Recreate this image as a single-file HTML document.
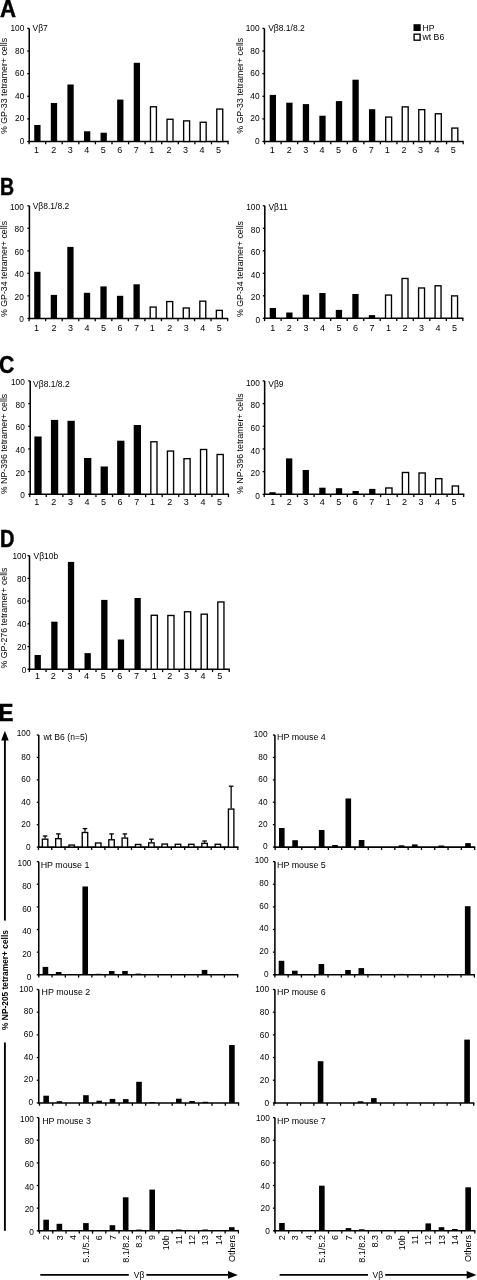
<!DOCTYPE html><html><head><meta charset="utf-8"><style>html,body{margin:0;padding:0;background:#fff}svg{display:block;will-change:transform}text{stroke:none;fill:#000}</style></head><body>
<svg width="477" height="1280" viewBox="0 0 477 1280" font-family="'Liberation Sans', sans-serif" stroke="#000" fill="#000">
<text transform="translate(0.0 16.8) scale(0.965 1)" font-size="23" font-weight="bold" style="stroke:#000;stroke-width:0.45;stroke-linejoin:miter">A</text>
<text transform="translate(0.1 194.7) scale(0.85 1)" font-size="23" font-weight="bold" style="stroke:#000;stroke-width:0.45;stroke-linejoin:miter">B</text>
<text transform="translate(-0.9 372.8) scale(0.925 1)" font-size="23" font-weight="bold" style="stroke:#000;stroke-width:0.45;stroke-linejoin:miter">C</text>
<text transform="translate(0.0 546.7) scale(0.87 1)" font-size="23" font-weight="bold" style="stroke:#000;stroke-width:0.45;stroke-linejoin:miter">D</text>
<text transform="translate(-1.4 720.7) scale(0.975 1)" font-size="23" font-weight="bold" style="stroke:#000;stroke-width:0.45;stroke-linejoin:miter">E</text>
<line x1="29.25" y1="28.4" x2="29.25" y2="142.25" stroke-width="1.55"/>
<line x1="28.5" y1="141.5" x2="228.66" y2="141.5" stroke-width="1.55"/>
<line x1="27.25" y1="141.5" x2="29.25" y2="141.5" stroke-width="1.3"/>
<text x="24.25" y="144.1" font-size="8.3" text-anchor="end">0</text>
<line x1="27.25" y1="118.88" x2="29.25" y2="118.88" stroke-width="1.3"/>
<text x="24.25" y="121.48" font-size="8.3" text-anchor="end">20</text>
<line x1="27.25" y1="96.26" x2="29.25" y2="96.26" stroke-width="1.3"/>
<text x="24.25" y="98.86" font-size="8.3" text-anchor="end">40</text>
<line x1="27.25" y1="73.64" x2="29.25" y2="73.64" stroke-width="1.3"/>
<text x="24.25" y="76.24" font-size="8.3" text-anchor="end">60</text>
<line x1="27.25" y1="51.02" x2="29.25" y2="51.02" stroke-width="1.3"/>
<text x="24.25" y="53.62" font-size="8.3" text-anchor="end">80</text>
<line x1="27.25" y1="28.4" x2="29.25" y2="28.4" stroke-width="1.3"/>
<text x="24.25" y="31" font-size="8.3" text-anchor="end">100</text>
<line x1="29.1" y1="141.5" x2="29.1" y2="144.3" stroke-width="1.3"/>
<line x1="45.68" y1="141.5" x2="45.68" y2="144.3" stroke-width="1.3"/>
<line x1="62.26" y1="141.5" x2="62.26" y2="144.3" stroke-width="1.3"/>
<line x1="78.84" y1="141.5" x2="78.84" y2="144.3" stroke-width="1.3"/>
<line x1="95.42" y1="141.5" x2="95.42" y2="144.3" stroke-width="1.3"/>
<line x1="112" y1="141.5" x2="112" y2="144.3" stroke-width="1.3"/>
<line x1="128.58" y1="141.5" x2="128.58" y2="144.3" stroke-width="1.3"/>
<line x1="145.16" y1="141.5" x2="145.16" y2="144.3" stroke-width="1.3"/>
<line x1="161.74" y1="141.5" x2="161.74" y2="144.3" stroke-width="1.3"/>
<line x1="178.32" y1="141.5" x2="178.32" y2="144.3" stroke-width="1.3"/>
<line x1="194.9" y1="141.5" x2="194.9" y2="144.3" stroke-width="1.3"/>
<line x1="211.48" y1="141.5" x2="211.48" y2="144.3" stroke-width="1.3"/>
<line x1="228.06" y1="141.5" x2="228.06" y2="144.3" stroke-width="1.3"/>
<rect x="34.24" y="125" width="6.3" height="16.5" fill="#000" stroke="none"/>
<rect x="50.82" y="103" width="6.3" height="38.5" fill="#000" stroke="none"/>
<rect x="67.4" y="84.5" width="6.3" height="57" fill="#000" stroke="none"/>
<rect x="83.98" y="131.3" width="6.3" height="10.2" fill="#000" stroke="none"/>
<rect x="100.56" y="132.7" width="6.3" height="8.8" fill="#000" stroke="none"/>
<rect x="117.14" y="99.6" width="6.3" height="41.9" fill="#000" stroke="none"/>
<rect x="133.72" y="62.8" width="6.3" height="78.7" fill="#000" stroke="none"/>
<rect x="150.47" y="106.77" width="5.95" height="34.73" fill="#fff" stroke="#000" stroke-width="1.35"/>
<rect x="167.05" y="119.27" width="5.95" height="22.23" fill="#fff" stroke="#000" stroke-width="1.35"/>
<rect x="183.63" y="120.88" width="5.95" height="20.62" fill="#fff" stroke="#000" stroke-width="1.35"/>
<rect x="200.21" y="122.27" width="5.95" height="19.23" fill="#fff" stroke="#000" stroke-width="1.35"/>
<rect x="216.79" y="109.08" width="5.95" height="32.42" fill="#fff" stroke="#000" stroke-width="1.35"/>
<text x="36.49" y="152.9" font-size="9" text-anchor="middle">1</text>
<text x="53.85" y="152.9" font-size="9" text-anchor="middle">2</text>
<text x="70.31" y="152.9" font-size="9" text-anchor="middle">3</text>
<text x="86.77" y="152.9" font-size="9" text-anchor="middle">4</text>
<text x="103.23" y="152.9" font-size="9" text-anchor="middle">5</text>
<text x="119.69" y="152.9" font-size="9" text-anchor="middle">6</text>
<text x="136.15" y="152.9" font-size="9" text-anchor="middle">7</text>
<text x="151.71" y="152.9" font-size="9" text-anchor="middle">1</text>
<text x="169.07" y="152.9" font-size="9" text-anchor="middle">2</text>
<text x="185.53" y="152.9" font-size="9" text-anchor="middle">3</text>
<text x="201.99" y="152.9" font-size="9" text-anchor="middle">4</text>
<text x="218.45" y="152.9" font-size="9" text-anchor="middle">5</text>
<text x="32.55" y="30.8" font-size="8.5">Vβ7</text>
<text x="6.5" y="86" font-size="8.8" text-anchor="middle" transform="rotate(-90 6.5 86)">% GP-33 tetramer+ cells</text>
<line x1="264.4" y1="28.4" x2="264.4" y2="142.25" stroke-width="1.55"/>
<line x1="263.65" y1="141.5" x2="463.72" y2="141.5" stroke-width="1.55"/>
<line x1="262.4" y1="141.5" x2="264.4" y2="141.5" stroke-width="1.3"/>
<text x="259.55" y="144.1" font-size="8.3" text-anchor="end">0</text>
<line x1="262.4" y1="118.88" x2="264.4" y2="118.88" stroke-width="1.3"/>
<text x="259.55" y="121.48" font-size="8.3" text-anchor="end">20</text>
<line x1="262.4" y1="96.26" x2="264.4" y2="96.26" stroke-width="1.3"/>
<text x="259.55" y="98.86" font-size="8.3" text-anchor="end">40</text>
<line x1="262.4" y1="73.64" x2="264.4" y2="73.64" stroke-width="1.3"/>
<text x="259.55" y="76.24" font-size="8.3" text-anchor="end">60</text>
<line x1="262.4" y1="51.02" x2="264.4" y2="51.02" stroke-width="1.3"/>
<text x="259.55" y="53.62" font-size="8.3" text-anchor="end">80</text>
<line x1="262.4" y1="28.4" x2="264.4" y2="28.4" stroke-width="1.3"/>
<text x="259.55" y="31" font-size="8.3" text-anchor="end">100</text>
<line x1="264.58" y1="141.5" x2="264.58" y2="144.3" stroke-width="1.3"/>
<line x1="281.12" y1="141.5" x2="281.12" y2="144.3" stroke-width="1.3"/>
<line x1="297.67" y1="141.5" x2="297.67" y2="144.3" stroke-width="1.3"/>
<line x1="314.21" y1="141.5" x2="314.21" y2="144.3" stroke-width="1.3"/>
<line x1="330.76" y1="141.5" x2="330.76" y2="144.3" stroke-width="1.3"/>
<line x1="347.31" y1="141.5" x2="347.31" y2="144.3" stroke-width="1.3"/>
<line x1="363.85" y1="141.5" x2="363.85" y2="144.3" stroke-width="1.3"/>
<line x1="380.39" y1="141.5" x2="380.39" y2="144.3" stroke-width="1.3"/>
<line x1="396.94" y1="141.5" x2="396.94" y2="144.3" stroke-width="1.3"/>
<line x1="413.49" y1="141.5" x2="413.49" y2="144.3" stroke-width="1.3"/>
<line x1="430.03" y1="141.5" x2="430.03" y2="144.3" stroke-width="1.3"/>
<line x1="446.57" y1="141.5" x2="446.57" y2="144.3" stroke-width="1.3"/>
<line x1="463.12" y1="141.5" x2="463.12" y2="144.3" stroke-width="1.3"/>
<rect x="269.7" y="94.9" width="6.3" height="46.6" fill="#000" stroke="none"/>
<rect x="286.25" y="102.7" width="6.3" height="38.8" fill="#000" stroke="none"/>
<rect x="302.79" y="104.1" width="6.3" height="37.4" fill="#000" stroke="none"/>
<rect x="319.34" y="115.7" width="6.3" height="25.8" fill="#000" stroke="none"/>
<rect x="335.88" y="101.1" width="6.3" height="40.4" fill="#000" stroke="none"/>
<rect x="352.43" y="79.7" width="6.3" height="61.8" fill="#000" stroke="none"/>
<rect x="368.97" y="109.2" width="6.3" height="32.3" fill="#000" stroke="none"/>
<rect x="385.69" y="117.08" width="5.95" height="24.42" fill="#fff" stroke="#000" stroke-width="1.35"/>
<rect x="402.24" y="106.88" width="5.95" height="34.62" fill="#fff" stroke="#000" stroke-width="1.35"/>
<rect x="418.78" y="109.67" width="5.95" height="31.82" fill="#fff" stroke="#000" stroke-width="1.35"/>
<rect x="435.33" y="113.77" width="5.95" height="27.73" fill="#fff" stroke="#000" stroke-width="1.35"/>
<rect x="451.87" y="128.08" width="5.95" height="13.42" fill="#fff" stroke="#000" stroke-width="1.35"/>
<text x="272.35" y="152.9" font-size="9" text-anchor="middle">1</text>
<text x="289.26" y="152.9" font-size="9" text-anchor="middle">2</text>
<text x="305.66" y="152.9" font-size="9" text-anchor="middle">3</text>
<text x="322.07" y="152.9" font-size="9" text-anchor="middle">4</text>
<text x="338.47" y="152.9" font-size="9" text-anchor="middle">5</text>
<text x="354.88" y="152.9" font-size="9" text-anchor="middle">6</text>
<text x="371.28" y="152.9" font-size="9" text-anchor="middle">7</text>
<text x="387.19" y="152.9" font-size="9" text-anchor="middle">1</text>
<text x="404.09" y="152.9" font-size="9" text-anchor="middle">2</text>
<text x="420.5" y="152.9" font-size="9" text-anchor="middle">3</text>
<text x="436.9" y="152.9" font-size="9" text-anchor="middle">4</text>
<text x="453.31" y="152.9" font-size="9" text-anchor="middle">5</text>
<text x="268.2" y="30.7" font-size="8.5">Vβ8.1/8.2</text>
<text x="242.8" y="85.8" font-size="8.8" text-anchor="middle" transform="rotate(-90 242.8 85.8)">% GP-33 tetramer+ cells</text>
<rect x="413.5" y="24.2" width="7.2" height="6.8" fill="#000" stroke="none"/>
<rect x="414.1" y="34.2" width="6" height="6" fill="#fff" stroke="#000" stroke-width="1.35"/>
<text x="422.5" y="30.6" font-size="8.7">HP</text>
<text x="422.5" y="40.3" font-size="8.7">wt B6</text>
<line x1="29.4" y1="205.8" x2="29.4" y2="319.15" stroke-width="1.55"/>
<line x1="28.65" y1="318.4" x2="228.22" y2="318.4" stroke-width="1.55"/>
<line x1="27.4" y1="318.4" x2="29.4" y2="318.4" stroke-width="1.3"/>
<text x="23.75" y="322.4" font-size="8.3" text-anchor="end">0</text>
<line x1="27.4" y1="295.88" x2="29.4" y2="295.88" stroke-width="1.3"/>
<text x="23.75" y="299.88" font-size="8.3" text-anchor="end">20</text>
<line x1="27.4" y1="273.36" x2="29.4" y2="273.36" stroke-width="1.3"/>
<text x="23.75" y="277.36" font-size="8.3" text-anchor="end">40</text>
<line x1="27.4" y1="250.84" x2="29.4" y2="250.84" stroke-width="1.3"/>
<text x="23.75" y="254.84" font-size="8.3" text-anchor="end">60</text>
<line x1="27.4" y1="228.32" x2="29.4" y2="228.32" stroke-width="1.3"/>
<text x="23.75" y="232.32" font-size="8.3" text-anchor="end">80</text>
<line x1="27.4" y1="205.8" x2="29.4" y2="205.8" stroke-width="1.3"/>
<text x="23.75" y="209.8" font-size="8.3" text-anchor="end">100</text>
<line x1="29.08" y1="318.4" x2="29.08" y2="321.2" stroke-width="1.3"/>
<line x1="45.62" y1="318.4" x2="45.62" y2="321.2" stroke-width="1.3"/>
<line x1="62.17" y1="318.4" x2="62.17" y2="321.2" stroke-width="1.3"/>
<line x1="78.72" y1="318.4" x2="78.72" y2="321.2" stroke-width="1.3"/>
<line x1="95.26" y1="318.4" x2="95.26" y2="321.2" stroke-width="1.3"/>
<line x1="111.81" y1="318.4" x2="111.81" y2="321.2" stroke-width="1.3"/>
<line x1="128.35" y1="318.4" x2="128.35" y2="321.2" stroke-width="1.3"/>
<line x1="144.9" y1="318.4" x2="144.9" y2="321.2" stroke-width="1.3"/>
<line x1="161.44" y1="318.4" x2="161.44" y2="321.2" stroke-width="1.3"/>
<line x1="177.99" y1="318.4" x2="177.99" y2="321.2" stroke-width="1.3"/>
<line x1="194.53" y1="318.4" x2="194.53" y2="321.2" stroke-width="1.3"/>
<line x1="211.07" y1="318.4" x2="211.07" y2="321.2" stroke-width="1.3"/>
<line x1="227.62" y1="318.4" x2="227.62" y2="321.2" stroke-width="1.3"/>
<rect x="34.2" y="271.8" width="6.3" height="46.6" fill="#000" stroke="none"/>
<rect x="50.75" y="294.9" width="6.3" height="23.5" fill="#000" stroke="none"/>
<rect x="67.29" y="246.9" width="6.3" height="71.5" fill="#000" stroke="none"/>
<rect x="83.84" y="292.8" width="6.3" height="25.6" fill="#000" stroke="none"/>
<rect x="100.38" y="286.4" width="6.3" height="32" fill="#000" stroke="none"/>
<rect x="116.93" y="295.8" width="6.3" height="22.6" fill="#000" stroke="none"/>
<rect x="133.47" y="284.3" width="6.3" height="34.1" fill="#000" stroke="none"/>
<rect x="150.19" y="307.07" width="5.95" height="11.32" fill="#fff" stroke="#000" stroke-width="1.35"/>
<rect x="166.74" y="301.57" width="5.95" height="16.82" fill="#fff" stroke="#000" stroke-width="1.35"/>
<rect x="183.28" y="307.98" width="5.95" height="10.42" fill="#fff" stroke="#000" stroke-width="1.35"/>
<rect x="199.83" y="301.18" width="5.95" height="17.22" fill="#fff" stroke="#000" stroke-width="1.35"/>
<rect x="216.37" y="310.38" width="5.95" height="8.02" fill="#fff" stroke="#000" stroke-width="1.35"/>
<text x="36.55" y="330.8" font-size="9" text-anchor="middle">1</text>
<text x="53.9" y="330.8" font-size="9" text-anchor="middle">2</text>
<text x="70.44" y="330.8" font-size="9" text-anchor="middle">3</text>
<text x="86.99" y="330.8" font-size="9" text-anchor="middle">4</text>
<text x="103.53" y="330.8" font-size="9" text-anchor="middle">5</text>
<text x="120.08" y="330.8" font-size="9" text-anchor="middle">6</text>
<text x="136.62" y="330.8" font-size="9" text-anchor="middle">7</text>
<text x="152.37" y="330.8" font-size="9" text-anchor="middle">1</text>
<text x="169.71" y="330.8" font-size="9" text-anchor="middle">2</text>
<text x="186.26" y="330.8" font-size="9" text-anchor="middle">3</text>
<text x="202.8" y="330.8" font-size="9" text-anchor="middle">4</text>
<text x="219.35" y="330.8" font-size="9" text-anchor="middle">5</text>
<text x="32.7" y="209.3" font-size="8.5">Vβ8.1/8.2</text>
<text x="6.5" y="269" font-size="8.8" text-anchor="middle" transform="rotate(-90 6.5 269)">% GP-34 tetramer+ cells</text>
<line x1="264.8" y1="205.8" x2="264.8" y2="319.05" stroke-width="1.55"/>
<line x1="264.05" y1="318.3" x2="463.44" y2="318.3" stroke-width="1.55"/>
<line x1="262.8" y1="318.3" x2="264.8" y2="318.3" stroke-width="1.3"/>
<text x="260" y="322.9" font-size="8.3" text-anchor="end">0</text>
<line x1="262.8" y1="295.8" x2="264.8" y2="295.8" stroke-width="1.3"/>
<text x="260" y="300.4" font-size="8.3" text-anchor="end">20</text>
<line x1="262.8" y1="273.3" x2="264.8" y2="273.3" stroke-width="1.3"/>
<text x="260" y="277.9" font-size="8.3" text-anchor="end">40</text>
<line x1="262.8" y1="250.8" x2="264.8" y2="250.8" stroke-width="1.3"/>
<text x="260" y="255.4" font-size="8.3" text-anchor="end">60</text>
<line x1="262.8" y1="228.3" x2="264.8" y2="228.3" stroke-width="1.3"/>
<text x="260" y="232.9" font-size="8.3" text-anchor="end">80</text>
<line x1="262.8" y1="205.8" x2="264.8" y2="205.8" stroke-width="1.3"/>
<text x="260" y="210.4" font-size="8.3" text-anchor="end">100</text>
<line x1="264.6" y1="318.3" x2="264.6" y2="321.1" stroke-width="1.3"/>
<line x1="281.12" y1="318.3" x2="281.12" y2="321.1" stroke-width="1.3"/>
<line x1="297.64" y1="318.3" x2="297.64" y2="321.1" stroke-width="1.3"/>
<line x1="314.16" y1="318.3" x2="314.16" y2="321.1" stroke-width="1.3"/>
<line x1="330.68" y1="318.3" x2="330.68" y2="321.1" stroke-width="1.3"/>
<line x1="347.2" y1="318.3" x2="347.2" y2="321.1" stroke-width="1.3"/>
<line x1="363.72" y1="318.3" x2="363.72" y2="321.1" stroke-width="1.3"/>
<line x1="380.24" y1="318.3" x2="380.24" y2="321.1" stroke-width="1.3"/>
<line x1="396.76" y1="318.3" x2="396.76" y2="321.1" stroke-width="1.3"/>
<line x1="413.28" y1="318.3" x2="413.28" y2="321.1" stroke-width="1.3"/>
<line x1="429.8" y1="318.3" x2="429.8" y2="321.1" stroke-width="1.3"/>
<line x1="446.32" y1="318.3" x2="446.32" y2="321.1" stroke-width="1.3"/>
<line x1="462.84" y1="318.3" x2="462.84" y2="321.1" stroke-width="1.3"/>
<rect x="269.71" y="308" width="6.3" height="10.3" fill="#000" stroke="none"/>
<rect x="286.23" y="312.5" width="6.3" height="5.8" fill="#000" stroke="none"/>
<rect x="302.75" y="294.7" width="6.3" height="23.6" fill="#000" stroke="none"/>
<rect x="319.27" y="293" width="6.3" height="25.3" fill="#000" stroke="none"/>
<rect x="335.79" y="309.9" width="6.3" height="8.4" fill="#000" stroke="none"/>
<rect x="352.31" y="294" width="6.3" height="24.3" fill="#000" stroke="none"/>
<rect x="368.83" y="315.1" width="6.3" height="3.2" fill="#000" stroke="none"/>
<rect x="385.53" y="295.07" width="5.95" height="23.23" fill="#fff" stroke="#000" stroke-width="1.35"/>
<rect x="402.05" y="278.48" width="5.95" height="39.83" fill="#fff" stroke="#000" stroke-width="1.35"/>
<rect x="418.57" y="287.98" width="5.95" height="30.32" fill="#fff" stroke="#000" stroke-width="1.35"/>
<rect x="435.09" y="285.78" width="5.95" height="32.52" fill="#fff" stroke="#000" stroke-width="1.35"/>
<rect x="451.61" y="295.88" width="5.95" height="22.43" fill="#fff" stroke="#000" stroke-width="1.35"/>
<text x="272.86" y="330.7" font-size="9" text-anchor="middle">1</text>
<text x="289.38" y="330.7" font-size="9" text-anchor="middle">2</text>
<text x="305.9" y="330.7" font-size="9" text-anchor="middle">3</text>
<text x="322.42" y="330.7" font-size="9" text-anchor="middle">4</text>
<text x="338.94" y="330.7" font-size="9" text-anchor="middle">5</text>
<text x="355.46" y="330.7" font-size="9" text-anchor="middle">6</text>
<text x="371.98" y="330.7" font-size="9" text-anchor="middle">7</text>
<text x="388.5" y="330.7" font-size="9" text-anchor="middle">1</text>
<text x="405.02" y="330.7" font-size="9" text-anchor="middle">2</text>
<text x="421.54" y="330.7" font-size="9" text-anchor="middle">3</text>
<text x="438.06" y="330.7" font-size="9" text-anchor="middle">4</text>
<text x="454.58" y="330.7" font-size="9" text-anchor="middle">5</text>
<text x="268.4" y="209.9" font-size="8.5">Vβ11</text>
<text x="242.7" y="269" font-size="8.8" text-anchor="middle" transform="rotate(-90 242.7 269)">% GP-34 tetramer+ cells</text>
<line x1="30.2" y1="380.9" x2="30.2" y2="495.05" stroke-width="1.55"/>
<line x1="29.45" y1="494.3" x2="229.04" y2="494.3" stroke-width="1.55"/>
<line x1="28.2" y1="494.3" x2="30.2" y2="494.3" stroke-width="1.3"/>
<text x="24.75" y="498.3" font-size="8.3" text-anchor="end">0</text>
<line x1="28.2" y1="471.62" x2="30.2" y2="471.62" stroke-width="1.3"/>
<text x="24.75" y="475.62" font-size="8.3" text-anchor="end">20</text>
<line x1="28.2" y1="448.94" x2="30.2" y2="448.94" stroke-width="1.3"/>
<text x="24.75" y="452.94" font-size="8.3" text-anchor="end">40</text>
<line x1="28.2" y1="426.26" x2="30.2" y2="426.26" stroke-width="1.3"/>
<text x="24.75" y="430.26" font-size="8.3" text-anchor="end">60</text>
<line x1="28.2" y1="403.58" x2="30.2" y2="403.58" stroke-width="1.3"/>
<text x="24.75" y="407.58" font-size="8.3" text-anchor="end">80</text>
<line x1="28.2" y1="380.9" x2="30.2" y2="380.9" stroke-width="1.3"/>
<text x="24.75" y="384.9" font-size="8.3" text-anchor="end">100</text>
<line x1="29.72" y1="494.3" x2="29.72" y2="497.1" stroke-width="1.3"/>
<line x1="46.28" y1="494.3" x2="46.28" y2="497.1" stroke-width="1.3"/>
<line x1="62.84" y1="494.3" x2="62.84" y2="497.1" stroke-width="1.3"/>
<line x1="79.4" y1="494.3" x2="79.4" y2="497.1" stroke-width="1.3"/>
<line x1="95.96" y1="494.3" x2="95.96" y2="497.1" stroke-width="1.3"/>
<line x1="112.52" y1="494.3" x2="112.52" y2="497.1" stroke-width="1.3"/>
<line x1="129.08" y1="494.3" x2="129.08" y2="497.1" stroke-width="1.3"/>
<line x1="145.64" y1="494.3" x2="145.64" y2="497.1" stroke-width="1.3"/>
<line x1="162.2" y1="494.3" x2="162.2" y2="497.1" stroke-width="1.3"/>
<line x1="178.76" y1="494.3" x2="178.76" y2="497.1" stroke-width="1.3"/>
<line x1="195.32" y1="494.3" x2="195.32" y2="497.1" stroke-width="1.3"/>
<line x1="211.88" y1="494.3" x2="211.88" y2="497.1" stroke-width="1.3"/>
<line x1="228.44" y1="494.3" x2="228.44" y2="497.1" stroke-width="1.3"/>
<rect x="34.35" y="436.5" width="7.3" height="57.8" fill="#000" stroke="none"/>
<rect x="50.91" y="419.9" width="7.3" height="74.4" fill="#000" stroke="none"/>
<rect x="67.47" y="420.8" width="7.3" height="73.5" fill="#000" stroke="none"/>
<rect x="84.03" y="458" width="7.3" height="36.3" fill="#000" stroke="none"/>
<rect x="100.59" y="466.5" width="7.3" height="27.8" fill="#000" stroke="none"/>
<rect x="117.15" y="440.7" width="7.3" height="53.6" fill="#000" stroke="none"/>
<rect x="133.71" y="425" width="7.3" height="69.3" fill="#000" stroke="none"/>
<rect x="150.84" y="441.78" width="6.15" height="52.52" fill="#fff" stroke="#000" stroke-width="1.35"/>
<rect x="167.41" y="451.07" width="6.15" height="43.23" fill="#fff" stroke="#000" stroke-width="1.35"/>
<rect x="183.97" y="458.68" width="6.15" height="35.63" fill="#fff" stroke="#000" stroke-width="1.35"/>
<rect x="200.53" y="449.48" width="6.15" height="44.83" fill="#fff" stroke="#000" stroke-width="1.35"/>
<rect x="217.09" y="454.48" width="6.15" height="39.83" fill="#fff" stroke="#000" stroke-width="1.35"/>
<text x="36.7" y="504.9" font-size="9" text-anchor="middle">1</text>
<text x="53.86" y="504.9" font-size="9" text-anchor="middle">2</text>
<text x="70.42" y="504.9" font-size="9" text-anchor="middle">3</text>
<text x="86.98" y="504.9" font-size="9" text-anchor="middle">4</text>
<text x="103.54" y="504.9" font-size="9" text-anchor="middle">5</text>
<text x="120.1" y="504.9" font-size="9" text-anchor="middle">6</text>
<text x="136.66" y="504.9" font-size="9" text-anchor="middle">7</text>
<text x="152.62" y="504.9" font-size="9" text-anchor="middle">1</text>
<text x="169.78" y="504.9" font-size="9" text-anchor="middle">2</text>
<text x="186.34" y="504.9" font-size="9" text-anchor="middle">3</text>
<text x="202.9" y="504.9" font-size="9" text-anchor="middle">4</text>
<text x="219.46" y="504.9" font-size="9" text-anchor="middle">5</text>
<text x="33.1" y="386.9" font-size="8.5">Vβ8.1/8.2</text>
<text x="6.5" y="444" font-size="8.8" text-anchor="middle" transform="rotate(-90 6.5 444)">% NP-396 tetramer+ cells</text>
<line x1="264.65" y1="380.9" x2="264.65" y2="495.05" stroke-width="1.55"/>
<line x1="263.9" y1="494.3" x2="464.28" y2="494.3" stroke-width="1.55"/>
<line x1="262.65" y1="494.3" x2="264.65" y2="494.3" stroke-width="1.3"/>
<text x="259.85" y="498.9" font-size="8.3" text-anchor="end">0</text>
<line x1="262.65" y1="471.62" x2="264.65" y2="471.62" stroke-width="1.3"/>
<text x="259.85" y="476.22" font-size="8.3" text-anchor="end">20</text>
<line x1="262.65" y1="448.94" x2="264.65" y2="448.94" stroke-width="1.3"/>
<text x="259.85" y="453.54" font-size="8.3" text-anchor="end">40</text>
<line x1="262.65" y1="426.26" x2="264.65" y2="426.26" stroke-width="1.3"/>
<text x="259.85" y="430.86" font-size="8.3" text-anchor="end">60</text>
<line x1="262.65" y1="403.58" x2="264.65" y2="403.58" stroke-width="1.3"/>
<text x="259.85" y="408.18" font-size="8.3" text-anchor="end">80</text>
<line x1="262.65" y1="380.9" x2="264.65" y2="380.9" stroke-width="1.3"/>
<text x="259.85" y="385.5" font-size="8.3" text-anchor="end">100</text>
<line x1="264.24" y1="494.3" x2="264.24" y2="497.1" stroke-width="1.3"/>
<line x1="280.86" y1="494.3" x2="280.86" y2="497.1" stroke-width="1.3"/>
<line x1="297.48" y1="494.3" x2="297.48" y2="497.1" stroke-width="1.3"/>
<line x1="314.1" y1="494.3" x2="314.1" y2="497.1" stroke-width="1.3"/>
<line x1="330.72" y1="494.3" x2="330.72" y2="497.1" stroke-width="1.3"/>
<line x1="347.34" y1="494.3" x2="347.34" y2="497.1" stroke-width="1.3"/>
<line x1="363.96" y1="494.3" x2="363.96" y2="497.1" stroke-width="1.3"/>
<line x1="380.58" y1="494.3" x2="380.58" y2="497.1" stroke-width="1.3"/>
<line x1="397.2" y1="494.3" x2="397.2" y2="497.1" stroke-width="1.3"/>
<line x1="413.82" y1="494.3" x2="413.82" y2="497.1" stroke-width="1.3"/>
<line x1="430.44" y1="494.3" x2="430.44" y2="497.1" stroke-width="1.3"/>
<line x1="447.06" y1="494.3" x2="447.06" y2="497.1" stroke-width="1.3"/>
<line x1="463.68" y1="494.3" x2="463.68" y2="497.1" stroke-width="1.3"/>
<rect x="269.4" y="492.2" width="6.3" height="2.1" fill="#000" stroke="none"/>
<rect x="286.02" y="458.4" width="6.3" height="35.9" fill="#000" stroke="none"/>
<rect x="302.64" y="470" width="6.3" height="24.3" fill="#000" stroke="none"/>
<rect x="319.26" y="487.7" width="6.3" height="6.6" fill="#000" stroke="none"/>
<rect x="335.88" y="488.2" width="6.3" height="6.1" fill="#000" stroke="none"/>
<rect x="352.5" y="491" width="6.3" height="3.3" fill="#000" stroke="none"/>
<rect x="369.12" y="488.9" width="6.3" height="5.4" fill="#000" stroke="none"/>
<rect x="385.76" y="487.98" width="6.25" height="6.33" fill="#fff" stroke="#000" stroke-width="1.35"/>
<rect x="402.38" y="472.48" width="6.25" height="21.82" fill="#fff" stroke="#000" stroke-width="1.35"/>
<rect x="419" y="472.98" width="6.25" height="21.32" fill="#fff" stroke="#000" stroke-width="1.35"/>
<rect x="435.62" y="478.68" width="6.25" height="15.63" fill="#fff" stroke="#000" stroke-width="1.35"/>
<rect x="452.25" y="485.98" width="6.25" height="8.32" fill="#fff" stroke="#000" stroke-width="1.35"/>
<text x="272.85" y="504.9" font-size="9" text-anchor="middle">1</text>
<text x="289.32" y="504.9" font-size="9" text-anchor="middle">2</text>
<text x="305.79" y="504.9" font-size="9" text-anchor="middle">3</text>
<text x="322.26" y="504.9" font-size="9" text-anchor="middle">4</text>
<text x="338.73" y="504.9" font-size="9" text-anchor="middle">5</text>
<text x="355.2" y="504.9" font-size="9" text-anchor="middle">6</text>
<text x="371.67" y="504.9" font-size="9" text-anchor="middle">7</text>
<text x="388.14" y="504.9" font-size="9" text-anchor="middle">1</text>
<text x="404.61" y="504.9" font-size="9" text-anchor="middle">2</text>
<text x="421.08" y="504.9" font-size="9" text-anchor="middle">3</text>
<text x="437.55" y="504.9" font-size="9" text-anchor="middle">4</text>
<text x="454.02" y="504.9" font-size="9" text-anchor="middle">5</text>
<text x="268.25" y="386.8" font-size="8.5">Vβ9</text>
<text x="242.9" y="443.7" font-size="8.8" text-anchor="middle" transform="rotate(-90 242.9 443.7)">% NP-396 tetramer+ cells</text>
<line x1="29.5" y1="555.6" x2="29.5" y2="670.05" stroke-width="1.55"/>
<line x1="28.75" y1="669.3" x2="229.8" y2="669.3" stroke-width="1.55"/>
<line x1="27.5" y1="669.3" x2="29.5" y2="669.3" stroke-width="1.3"/>
<text x="26.25" y="672.6" font-size="8.3" text-anchor="end">0</text>
<line x1="27.5" y1="646.56" x2="29.5" y2="646.56" stroke-width="1.3"/>
<text x="26.25" y="649.86" font-size="8.3" text-anchor="end">20</text>
<line x1="27.5" y1="623.82" x2="29.5" y2="623.82" stroke-width="1.3"/>
<text x="26.25" y="627.12" font-size="8.3" text-anchor="end">40</text>
<line x1="27.5" y1="601.08" x2="29.5" y2="601.08" stroke-width="1.3"/>
<text x="26.25" y="604.38" font-size="8.3" text-anchor="end">60</text>
<line x1="27.5" y1="578.34" x2="29.5" y2="578.34" stroke-width="1.3"/>
<text x="26.25" y="581.64" font-size="8.3" text-anchor="end">80</text>
<line x1="27.5" y1="555.6" x2="29.5" y2="555.6" stroke-width="1.3"/>
<text x="26.25" y="558.9" font-size="8.3" text-anchor="end">100</text>
<line x1="29.4" y1="669.3" x2="29.4" y2="672.1" stroke-width="1.3"/>
<line x1="46.05" y1="669.3" x2="46.05" y2="672.1" stroke-width="1.3"/>
<line x1="62.7" y1="669.3" x2="62.7" y2="672.1" stroke-width="1.3"/>
<line x1="79.35" y1="669.3" x2="79.35" y2="672.1" stroke-width="1.3"/>
<line x1="96" y1="669.3" x2="96" y2="672.1" stroke-width="1.3"/>
<line x1="112.65" y1="669.3" x2="112.65" y2="672.1" stroke-width="1.3"/>
<line x1="129.3" y1="669.3" x2="129.3" y2="672.1" stroke-width="1.3"/>
<line x1="145.95" y1="669.3" x2="145.95" y2="672.1" stroke-width="1.3"/>
<line x1="162.6" y1="669.3" x2="162.6" y2="672.1" stroke-width="1.3"/>
<line x1="179.25" y1="669.3" x2="179.25" y2="672.1" stroke-width="1.3"/>
<line x1="195.9" y1="669.3" x2="195.9" y2="672.1" stroke-width="1.3"/>
<line x1="212.55" y1="669.3" x2="212.55" y2="672.1" stroke-width="1.3"/>
<line x1="229.2" y1="669.3" x2="229.2" y2="672.1" stroke-width="1.3"/>
<rect x="34.57" y="655" width="6.3" height="14.3" fill="#000" stroke="none"/>
<rect x="51.23" y="621.7" width="6.3" height="47.6" fill="#000" stroke="none"/>
<rect x="67.88" y="561.9" width="6.3" height="107.4" fill="#000" stroke="none"/>
<rect x="84.52" y="653.1" width="6.3" height="16.2" fill="#000" stroke="none"/>
<rect x="101.17" y="599.9" width="6.3" height="69.4" fill="#000" stroke="none"/>
<rect x="117.82" y="639.5" width="6.3" height="29.8" fill="#000" stroke="none"/>
<rect x="134.47" y="598" width="6.3" height="71.3" fill="#000" stroke="none"/>
<rect x="151.2" y="615.27" width="6.15" height="54.02" fill="#fff" stroke="#000" stroke-width="1.35"/>
<rect x="167.85" y="615.47" width="6.15" height="53.83" fill="#fff" stroke="#000" stroke-width="1.35"/>
<rect x="184.5" y="611.77" width="6.15" height="57.52" fill="#fff" stroke="#000" stroke-width="1.35"/>
<rect x="201.15" y="614.17" width="6.15" height="55.12" fill="#fff" stroke="#000" stroke-width="1.35"/>
<rect x="217.8" y="601.97" width="6.15" height="67.33" fill="#fff" stroke="#000" stroke-width="1.35"/>
<text x="37.62" y="679.4" font-size="9" text-anchor="middle">1</text>
<text x="53.27" y="679.4" font-size="9" text-anchor="middle">2</text>
<text x="69.93" y="679.4" font-size="9" text-anchor="middle">3</text>
<text x="86.57" y="679.4" font-size="9" text-anchor="middle">4</text>
<text x="103.22" y="679.4" font-size="9" text-anchor="middle">5</text>
<text x="119.88" y="679.4" font-size="9" text-anchor="middle">6</text>
<text x="136.53" y="679.4" font-size="9" text-anchor="middle">7</text>
<text x="154.17" y="679.4" font-size="9" text-anchor="middle">1</text>
<text x="169.82" y="679.4" font-size="9" text-anchor="middle">2</text>
<text x="186.47" y="679.4" font-size="9" text-anchor="middle">3</text>
<text x="203.12" y="679.4" font-size="9" text-anchor="middle">4</text>
<text x="219.78" y="679.4" font-size="9" text-anchor="middle">5</text>
<text x="33.5" y="559.1" font-size="8.5">Vβ10b</text>
<text x="6.5" y="618" font-size="8.8" text-anchor="middle" transform="rotate(-90 6.5 618)">% GP-276 tetramer+ cells</text>
<line x1="38.75" y1="735" x2="38.75" y2="847.85" stroke-width="1.55"/>
<line x1="38" y1="847.1" x2="238.4" y2="847.1" stroke-width="1.55"/>
<line x1="36.75" y1="847.1" x2="38.75" y2="847.1" stroke-width="1.3"/>
<text x="30.55" y="849.55" font-size="8.3" text-anchor="end">0</text>
<line x1="36.75" y1="824.68" x2="38.75" y2="824.68" stroke-width="1.3"/>
<text x="30.55" y="827.13" font-size="8.3" text-anchor="end">20</text>
<line x1="36.75" y1="802.26" x2="38.75" y2="802.26" stroke-width="1.3"/>
<text x="30.55" y="804.71" font-size="8.3" text-anchor="end">40</text>
<line x1="36.75" y1="779.84" x2="38.75" y2="779.84" stroke-width="1.3"/>
<text x="30.55" y="782.29" font-size="8.3" text-anchor="end">60</text>
<line x1="36.75" y1="757.42" x2="38.75" y2="757.42" stroke-width="1.3"/>
<text x="30.55" y="759.87" font-size="8.3" text-anchor="end">80</text>
<line x1="36.75" y1="735" x2="38.75" y2="735" stroke-width="1.3"/>
<text x="30.55" y="736.05" font-size="8.3" text-anchor="end">100</text>
<line x1="38.45" y1="847.1" x2="38.45" y2="849.9" stroke-width="1.3"/>
<line x1="51.74" y1="847.1" x2="51.74" y2="849.9" stroke-width="1.3"/>
<line x1="65.03" y1="847.1" x2="65.03" y2="849.9" stroke-width="1.3"/>
<line x1="78.32" y1="847.1" x2="78.32" y2="849.9" stroke-width="1.3"/>
<line x1="91.61" y1="847.1" x2="91.61" y2="849.9" stroke-width="1.3"/>
<line x1="104.9" y1="847.1" x2="104.9" y2="849.9" stroke-width="1.3"/>
<line x1="118.19" y1="847.1" x2="118.19" y2="849.9" stroke-width="1.3"/>
<line x1="131.48" y1="847.1" x2="131.48" y2="849.9" stroke-width="1.3"/>
<line x1="144.77" y1="847.1" x2="144.77" y2="849.9" stroke-width="1.3"/>
<line x1="158.06" y1="847.1" x2="158.06" y2="849.9" stroke-width="1.3"/>
<line x1="171.35" y1="847.1" x2="171.35" y2="849.9" stroke-width="1.3"/>
<line x1="184.64" y1="847.1" x2="184.64" y2="849.9" stroke-width="1.3"/>
<line x1="197.93" y1="847.1" x2="197.93" y2="849.9" stroke-width="1.3"/>
<line x1="211.22" y1="847.1" x2="211.22" y2="849.9" stroke-width="1.3"/>
<line x1="224.51" y1="847.1" x2="224.51" y2="849.9" stroke-width="1.3"/>
<line x1="237.8" y1="847.1" x2="237.8" y2="849.9" stroke-width="1.3"/>
<line x1="45.09" y1="836" x2="45.09" y2="838.5" stroke-width="1.3"/>
<line x1="42.8" y1="836" x2="47.39" y2="836" stroke-width="1.3"/>
<rect x="42.37" y="839.17" width="5.45" height="7.93" fill="#fff" stroke="#000" stroke-width="1.35"/>
<line x1="58.39" y1="833.9" x2="58.39" y2="838" stroke-width="1.3"/>
<line x1="56.09" y1="833.9" x2="60.69" y2="833.9" stroke-width="1.3"/>
<rect x="55.66" y="838.67" width="5.45" height="8.43" fill="#fff" stroke="#000" stroke-width="1.35"/>
<rect x="68.95" y="845.07" width="5.45" height="2.03" fill="#fff" stroke="#000" stroke-width="1.35"/>
<line x1="84.97" y1="828.6" x2="84.97" y2="831.8" stroke-width="1.3"/>
<line x1="82.67" y1="828.6" x2="87.27" y2="828.6" stroke-width="1.3"/>
<rect x="82.24" y="832.47" width="5.45" height="14.63" fill="#fff" stroke="#000" stroke-width="1.35"/>
<rect x="95.53" y="842.97" width="5.45" height="4.13" fill="#fff" stroke="#000" stroke-width="1.35"/>
<line x1="111.55" y1="833.9" x2="111.55" y2="839.1" stroke-width="1.3"/>
<line x1="109.25" y1="833.9" x2="113.84" y2="833.9" stroke-width="1.3"/>
<rect x="108.82" y="839.77" width="5.45" height="7.33" fill="#fff" stroke="#000" stroke-width="1.35"/>
<line x1="124.83" y1="833.9" x2="124.83" y2="837.4" stroke-width="1.3"/>
<line x1="122.53" y1="833.9" x2="127.13" y2="833.9" stroke-width="1.3"/>
<rect x="122.11" y="838.07" width="5.45" height="9.03" fill="#fff" stroke="#000" stroke-width="1.35"/>
<rect x="135.4" y="844.47" width="5.45" height="2.63" fill="#fff" stroke="#000" stroke-width="1.35"/>
<line x1="151.41" y1="839.2" x2="151.41" y2="842.2" stroke-width="1.3"/>
<line x1="149.11" y1="839.2" x2="153.72" y2="839.2" stroke-width="1.3"/>
<rect x="148.69" y="842.88" width="5.45" height="4.22" fill="#fff" stroke="#000" stroke-width="1.35"/>
<rect x="161.98" y="844.07" width="5.45" height="3.03" fill="#fff" stroke="#000" stroke-width="1.35"/>
<rect x="175.27" y="844.27" width="5.45" height="2.83" fill="#fff" stroke="#000" stroke-width="1.35"/>
<rect x="188.56" y="844.27" width="5.45" height="2.83" fill="#fff" stroke="#000" stroke-width="1.35"/>
<line x1="204.57" y1="841" x2="204.57" y2="842.7" stroke-width="1.3"/>
<line x1="202.27" y1="841" x2="206.88" y2="841" stroke-width="1.3"/>
<rect x="201.85" y="843.38" width="5.45" height="3.72" fill="#fff" stroke="#000" stroke-width="1.35"/>
<rect x="215.14" y="844.27" width="5.45" height="2.83" fill="#fff" stroke="#000" stroke-width="1.35"/>
<line x1="231.15" y1="786.2" x2="231.15" y2="808.4" stroke-width="1.3"/>
<line x1="228.85" y1="786.2" x2="233.45" y2="786.2" stroke-width="1.3"/>
<rect x="228.43" y="809.07" width="5.45" height="38.03" fill="#fff" stroke="#000" stroke-width="1.35"/>
<text x="43.4" y="740" font-size="8.6">wt B6 (n=5)</text>
<line x1="274.9" y1="735" x2="274.9" y2="847.85" stroke-width="1.55"/>
<line x1="274.15" y1="847.1" x2="475.25" y2="847.1" stroke-width="1.55"/>
<line x1="272.9" y1="847.1" x2="274.9" y2="847.1" stroke-width="1.3"/>
<text x="267.6" y="849.45" font-size="8.3" text-anchor="end">0</text>
<line x1="272.9" y1="824.68" x2="274.9" y2="824.68" stroke-width="1.3"/>
<text x="267.6" y="827.03" font-size="8.3" text-anchor="end">20</text>
<line x1="272.9" y1="802.26" x2="274.9" y2="802.26" stroke-width="1.3"/>
<text x="267.6" y="804.61" font-size="8.3" text-anchor="end">40</text>
<line x1="272.9" y1="779.84" x2="274.9" y2="779.84" stroke-width="1.3"/>
<text x="267.6" y="782.19" font-size="8.3" text-anchor="end">60</text>
<line x1="272.9" y1="757.42" x2="274.9" y2="757.42" stroke-width="1.3"/>
<text x="267.6" y="759.77" font-size="8.3" text-anchor="end">80</text>
<line x1="272.9" y1="735" x2="274.9" y2="735" stroke-width="1.3"/>
<text x="267.6" y="737.35" font-size="8.3" text-anchor="end">100</text>
<line x1="275.15" y1="847.1" x2="275.15" y2="849.9" stroke-width="1.3"/>
<line x1="288.45" y1="847.1" x2="288.45" y2="849.9" stroke-width="1.3"/>
<line x1="301.75" y1="847.1" x2="301.75" y2="849.9" stroke-width="1.3"/>
<line x1="315.05" y1="847.1" x2="315.05" y2="849.9" stroke-width="1.3"/>
<line x1="328.35" y1="847.1" x2="328.35" y2="849.9" stroke-width="1.3"/>
<line x1="341.65" y1="847.1" x2="341.65" y2="849.9" stroke-width="1.3"/>
<line x1="354.95" y1="847.1" x2="354.95" y2="849.9" stroke-width="1.3"/>
<line x1="368.25" y1="847.1" x2="368.25" y2="849.9" stroke-width="1.3"/>
<line x1="381.55" y1="847.1" x2="381.55" y2="849.9" stroke-width="1.3"/>
<line x1="394.85" y1="847.1" x2="394.85" y2="849.9" stroke-width="1.3"/>
<line x1="408.15" y1="847.1" x2="408.15" y2="849.9" stroke-width="1.3"/>
<line x1="421.45" y1="847.1" x2="421.45" y2="849.9" stroke-width="1.3"/>
<line x1="434.75" y1="847.1" x2="434.75" y2="849.9" stroke-width="1.3"/>
<line x1="448.05" y1="847.1" x2="448.05" y2="849.9" stroke-width="1.3"/>
<line x1="461.35" y1="847.1" x2="461.35" y2="849.9" stroke-width="1.3"/>
<line x1="474.65" y1="847.1" x2="474.65" y2="849.9" stroke-width="1.3"/>
<rect x="279" y="828" width="5.6" height="19.1" fill="#000" stroke="none"/>
<rect x="292.3" y="840.2" width="5.6" height="6.9" fill="#000" stroke="none"/>
<rect x="318.9" y="830" width="5.6" height="17.1" fill="#000" stroke="none"/>
<rect x="332.2" y="845" width="5.6" height="2.1" fill="#000" stroke="none"/>
<rect x="345.5" y="798.5" width="5.6" height="48.6" fill="#000" stroke="none"/>
<rect x="358.8" y="840" width="5.6" height="7.1" fill="#000" stroke="none"/>
<rect x="398.7" y="845.3" width="5.6" height="1.8" fill="#000" stroke="none"/>
<rect x="412" y="844.4" width="5.6" height="2.7" fill="#000" stroke="none"/>
<rect x="438.6" y="845.5" width="5.6" height="1.6" fill="#000" stroke="none"/>
<rect x="465.2" y="843.1" width="5.6" height="4" fill="#000" stroke="none"/>
<text x="277.1" y="739.8" font-size="8.9">HP mouse 4</text>
<line x1="38.75" y1="861.6" x2="38.75" y2="975.55" stroke-width="1.55"/>
<line x1="38" y1="974.8" x2="238.3" y2="974.8" stroke-width="1.55"/>
<line x1="36.75" y1="974.8" x2="38.75" y2="974.8" stroke-width="1.3"/>
<text x="31.45" y="979.55" font-size="8.3" text-anchor="end">0</text>
<line x1="36.75" y1="952.16" x2="38.75" y2="952.16" stroke-width="1.3"/>
<text x="31.45" y="956.91" font-size="8.3" text-anchor="end">20</text>
<line x1="36.75" y1="929.52" x2="38.75" y2="929.52" stroke-width="1.3"/>
<text x="31.45" y="934.27" font-size="8.3" text-anchor="end">40</text>
<line x1="36.75" y1="906.88" x2="38.75" y2="906.88" stroke-width="1.3"/>
<text x="31.45" y="911.63" font-size="8.3" text-anchor="end">60</text>
<line x1="36.75" y1="884.24" x2="38.75" y2="884.24" stroke-width="1.3"/>
<text x="31.45" y="888.99" font-size="8.3" text-anchor="end">80</text>
<line x1="36.75" y1="861.6" x2="38.75" y2="861.6" stroke-width="1.3"/>
<text x="31.45" y="866.35" font-size="8.3" text-anchor="end">100</text>
<line x1="38.8" y1="974.8" x2="38.8" y2="977.6" stroke-width="1.3"/>
<line x1="52.06" y1="974.8" x2="52.06" y2="977.6" stroke-width="1.3"/>
<line x1="65.32" y1="974.8" x2="65.32" y2="977.6" stroke-width="1.3"/>
<line x1="78.58" y1="974.8" x2="78.58" y2="977.6" stroke-width="1.3"/>
<line x1="91.84" y1="974.8" x2="91.84" y2="977.6" stroke-width="1.3"/>
<line x1="105.1" y1="974.8" x2="105.1" y2="977.6" stroke-width="1.3"/>
<line x1="118.36" y1="974.8" x2="118.36" y2="977.6" stroke-width="1.3"/>
<line x1="131.62" y1="974.8" x2="131.62" y2="977.6" stroke-width="1.3"/>
<line x1="144.88" y1="974.8" x2="144.88" y2="977.6" stroke-width="1.3"/>
<line x1="158.14" y1="974.8" x2="158.14" y2="977.6" stroke-width="1.3"/>
<line x1="171.4" y1="974.8" x2="171.4" y2="977.6" stroke-width="1.3"/>
<line x1="184.66" y1="974.8" x2="184.66" y2="977.6" stroke-width="1.3"/>
<line x1="197.92" y1="974.8" x2="197.92" y2="977.6" stroke-width="1.3"/>
<line x1="211.18" y1="974.8" x2="211.18" y2="977.6" stroke-width="1.3"/>
<line x1="224.44" y1="974.8" x2="224.44" y2="977.6" stroke-width="1.3"/>
<line x1="237.7" y1="974.8" x2="237.7" y2="977.6" stroke-width="1.3"/>
<rect x="42.63" y="966.9" width="5.6" height="7.9" fill="#000" stroke="none"/>
<rect x="55.89" y="972" width="5.6" height="2.8" fill="#000" stroke="none"/>
<rect x="82.41" y="886.5" width="5.6" height="88.3" fill="#000" stroke="none"/>
<rect x="95.67" y="973.8" width="5.6" height="1" fill="#000" stroke="none"/>
<rect x="108.93" y="971" width="5.6" height="3.8" fill="#000" stroke="none"/>
<rect x="122.19" y="971" width="5.6" height="3.8" fill="#000" stroke="none"/>
<rect x="135.45" y="973.6" width="5.6" height="1.2" fill="#000" stroke="none"/>
<rect x="201.75" y="969.9" width="5.6" height="4.9" fill="#000" stroke="none"/>
<text x="40.7" y="868" font-size="8.9">HP mouse 1</text>
<line x1="274.9" y1="861.6" x2="274.9" y2="975.55" stroke-width="1.55"/>
<line x1="274.15" y1="974.8" x2="474.95" y2="974.8" stroke-width="1.55"/>
<line x1="272.9" y1="974.8" x2="274.9" y2="974.8" stroke-width="1.3"/>
<text x="268.6" y="976.65" font-size="8.3" text-anchor="end">0</text>
<line x1="272.9" y1="952.16" x2="274.9" y2="952.16" stroke-width="1.3"/>
<text x="268.6" y="954.01" font-size="8.3" text-anchor="end">20</text>
<line x1="272.9" y1="929.52" x2="274.9" y2="929.52" stroke-width="1.3"/>
<text x="268.6" y="931.37" font-size="8.3" text-anchor="end">40</text>
<line x1="272.9" y1="906.88" x2="274.9" y2="906.88" stroke-width="1.3"/>
<text x="268.6" y="908.73" font-size="8.3" text-anchor="end">60</text>
<line x1="272.9" y1="884.24" x2="274.9" y2="884.24" stroke-width="1.3"/>
<text x="268.6" y="886.09" font-size="8.3" text-anchor="end">80</text>
<line x1="272.9" y1="861.6" x2="274.9" y2="861.6" stroke-width="1.3"/>
<text x="268.6" y="863.45" font-size="8.3" text-anchor="end">100</text>
<line x1="274.85" y1="974.8" x2="274.85" y2="977.6" stroke-width="1.3"/>
<line x1="288.15" y1="974.8" x2="288.15" y2="977.6" stroke-width="1.3"/>
<line x1="301.45" y1="974.8" x2="301.45" y2="977.6" stroke-width="1.3"/>
<line x1="314.75" y1="974.8" x2="314.75" y2="977.6" stroke-width="1.3"/>
<line x1="328.05" y1="974.8" x2="328.05" y2="977.6" stroke-width="1.3"/>
<line x1="341.35" y1="974.8" x2="341.35" y2="977.6" stroke-width="1.3"/>
<line x1="354.65" y1="974.8" x2="354.65" y2="977.6" stroke-width="1.3"/>
<line x1="367.95" y1="974.8" x2="367.95" y2="977.6" stroke-width="1.3"/>
<line x1="381.25" y1="974.8" x2="381.25" y2="977.6" stroke-width="1.3"/>
<line x1="394.55" y1="974.8" x2="394.55" y2="977.6" stroke-width="1.3"/>
<line x1="407.85" y1="974.8" x2="407.85" y2="977.6" stroke-width="1.3"/>
<line x1="421.15" y1="974.8" x2="421.15" y2="977.6" stroke-width="1.3"/>
<line x1="434.45" y1="974.8" x2="434.45" y2="977.6" stroke-width="1.3"/>
<line x1="447.75" y1="974.8" x2="447.75" y2="977.6" stroke-width="1.3"/>
<line x1="461.05" y1="974.8" x2="461.05" y2="977.6" stroke-width="1.3"/>
<line x1="474.35" y1="974.8" x2="474.35" y2="977.6" stroke-width="1.3"/>
<rect x="278.7" y="960.8" width="5.6" height="14" fill="#000" stroke="none"/>
<rect x="292" y="970.7" width="5.6" height="4.1" fill="#000" stroke="none"/>
<rect x="318.6" y="964" width="5.6" height="10.8" fill="#000" stroke="none"/>
<rect x="345.2" y="970" width="5.6" height="4.8" fill="#000" stroke="none"/>
<rect x="358.5" y="968.1" width="5.6" height="6.7" fill="#000" stroke="none"/>
<rect x="398.4" y="973.9" width="5.6" height="0.9" fill="#000" stroke="none"/>
<rect x="451.6" y="974" width="5.6" height="0.8" fill="#000" stroke="none"/>
<rect x="464.9" y="906.2" width="5.6" height="68.6" fill="#000" stroke="none"/>
<text x="277.1" y="867.6" font-size="8.9">HP mouse 5</text>
<line x1="38.75" y1="989.5" x2="38.75" y2="1103.65" stroke-width="1.55"/>
<line x1="38" y1="1102.9" x2="239.15" y2="1102.9" stroke-width="1.55"/>
<line x1="36.75" y1="1102.9" x2="38.75" y2="1102.9" stroke-width="1.3"/>
<text x="33.05" y="1105.05" font-size="8.3" text-anchor="end">0</text>
<line x1="36.75" y1="1080.22" x2="38.75" y2="1080.22" stroke-width="1.3"/>
<text x="33.05" y="1082.37" font-size="8.3" text-anchor="end">20</text>
<line x1="36.75" y1="1057.54" x2="38.75" y2="1057.54" stroke-width="1.3"/>
<text x="33.05" y="1059.69" font-size="8.3" text-anchor="end">40</text>
<line x1="36.75" y1="1034.86" x2="38.75" y2="1034.86" stroke-width="1.3"/>
<text x="33.05" y="1037.01" font-size="8.3" text-anchor="end">60</text>
<line x1="36.75" y1="1012.18" x2="38.75" y2="1012.18" stroke-width="1.3"/>
<text x="33.05" y="1014.33" font-size="8.3" text-anchor="end">80</text>
<line x1="36.75" y1="989.5" x2="38.75" y2="989.5" stroke-width="1.3"/>
<text x="33.05" y="991.65" font-size="8.3" text-anchor="end">100</text>
<line x1="39.5" y1="1102.9" x2="39.5" y2="1105.7" stroke-width="1.3"/>
<line x1="52.77" y1="1102.9" x2="52.77" y2="1105.7" stroke-width="1.3"/>
<line x1="66.04" y1="1102.9" x2="66.04" y2="1105.7" stroke-width="1.3"/>
<line x1="79.31" y1="1102.9" x2="79.31" y2="1105.7" stroke-width="1.3"/>
<line x1="92.58" y1="1102.9" x2="92.58" y2="1105.7" stroke-width="1.3"/>
<line x1="105.85" y1="1102.9" x2="105.85" y2="1105.7" stroke-width="1.3"/>
<line x1="119.12" y1="1102.9" x2="119.12" y2="1105.7" stroke-width="1.3"/>
<line x1="132.39" y1="1102.9" x2="132.39" y2="1105.7" stroke-width="1.3"/>
<line x1="145.66" y1="1102.9" x2="145.66" y2="1105.7" stroke-width="1.3"/>
<line x1="158.93" y1="1102.9" x2="158.93" y2="1105.7" stroke-width="1.3"/>
<line x1="172.2" y1="1102.9" x2="172.2" y2="1105.7" stroke-width="1.3"/>
<line x1="185.47" y1="1102.9" x2="185.47" y2="1105.7" stroke-width="1.3"/>
<line x1="198.74" y1="1102.9" x2="198.74" y2="1105.7" stroke-width="1.3"/>
<line x1="212.01" y1="1102.9" x2="212.01" y2="1105.7" stroke-width="1.3"/>
<line x1="225.28" y1="1102.9" x2="225.28" y2="1105.7" stroke-width="1.3"/>
<line x1="238.55" y1="1102.9" x2="238.55" y2="1105.7" stroke-width="1.3"/>
<rect x="43.34" y="1095.7" width="5.6" height="7.2" fill="#000" stroke="none"/>
<rect x="56.61" y="1101.2" width="5.6" height="1.7" fill="#000" stroke="none"/>
<rect x="83.14" y="1095.2" width="5.6" height="7.7" fill="#000" stroke="none"/>
<rect x="96.42" y="1100.7" width="5.6" height="2.2" fill="#000" stroke="none"/>
<rect x="109.69" y="1098.9" width="5.6" height="4" fill="#000" stroke="none"/>
<rect x="122.95" y="1099.1" width="5.6" height="3.8" fill="#000" stroke="none"/>
<rect x="136.22" y="1081.8" width="5.6" height="21.1" fill="#000" stroke="none"/>
<rect x="149.5" y="1102" width="5.6" height="0.9" fill="#000" stroke="none"/>
<rect x="176.03" y="1098.7" width="5.6" height="4.2" fill="#000" stroke="none"/>
<rect x="189.3" y="1101" width="5.6" height="1.9" fill="#000" stroke="none"/>
<rect x="202.57" y="1101.8" width="5.6" height="1.1" fill="#000" stroke="none"/>
<rect x="229.11" y="1045" width="5.6" height="57.9" fill="#000" stroke="none"/>
<text x="41.6" y="995.2" font-size="8.9">HP mouse 2</text>
<line x1="274.9" y1="989.5" x2="274.9" y2="1103.65" stroke-width="1.55"/>
<line x1="274.15" y1="1102.9" x2="474.35" y2="1102.9" stroke-width="1.55"/>
<line x1="272.9" y1="1102.9" x2="274.9" y2="1102.9" stroke-width="1.3"/>
<text x="269.1" y="1105.85" font-size="8.3" text-anchor="end">0</text>
<line x1="272.9" y1="1080.22" x2="274.9" y2="1080.22" stroke-width="1.3"/>
<text x="269.1" y="1083.17" font-size="8.3" text-anchor="end">20</text>
<line x1="272.9" y1="1057.54" x2="274.9" y2="1057.54" stroke-width="1.3"/>
<text x="269.1" y="1060.49" font-size="8.3" text-anchor="end">40</text>
<line x1="272.9" y1="1034.86" x2="274.9" y2="1034.86" stroke-width="1.3"/>
<text x="269.1" y="1037.81" font-size="8.3" text-anchor="end">60</text>
<line x1="272.9" y1="1012.18" x2="274.9" y2="1012.18" stroke-width="1.3"/>
<text x="269.1" y="1015.13" font-size="8.3" text-anchor="end">80</text>
<line x1="272.9" y1="989.5" x2="274.9" y2="989.5" stroke-width="1.3"/>
<text x="269.1" y="992.45" font-size="8.3" text-anchor="end">100</text>
<line x1="273.95" y1="1102.9" x2="273.95" y2="1105.7" stroke-width="1.3"/>
<line x1="287.27" y1="1102.9" x2="287.27" y2="1105.7" stroke-width="1.3"/>
<line x1="300.59" y1="1102.9" x2="300.59" y2="1105.7" stroke-width="1.3"/>
<line x1="313.91" y1="1102.9" x2="313.91" y2="1105.7" stroke-width="1.3"/>
<line x1="327.23" y1="1102.9" x2="327.23" y2="1105.7" stroke-width="1.3"/>
<line x1="340.55" y1="1102.9" x2="340.55" y2="1105.7" stroke-width="1.3"/>
<line x1="353.87" y1="1102.9" x2="353.87" y2="1105.7" stroke-width="1.3"/>
<line x1="367.19" y1="1102.9" x2="367.19" y2="1105.7" stroke-width="1.3"/>
<line x1="380.51" y1="1102.9" x2="380.51" y2="1105.7" stroke-width="1.3"/>
<line x1="393.83" y1="1102.9" x2="393.83" y2="1105.7" stroke-width="1.3"/>
<line x1="407.15" y1="1102.9" x2="407.15" y2="1105.7" stroke-width="1.3"/>
<line x1="420.47" y1="1102.9" x2="420.47" y2="1105.7" stroke-width="1.3"/>
<line x1="433.79" y1="1102.9" x2="433.79" y2="1105.7" stroke-width="1.3"/>
<line x1="447.11" y1="1102.9" x2="447.11" y2="1105.7" stroke-width="1.3"/>
<line x1="460.43" y1="1102.9" x2="460.43" y2="1105.7" stroke-width="1.3"/>
<line x1="473.75" y1="1102.9" x2="473.75" y2="1105.7" stroke-width="1.3"/>
<rect x="317.77" y="1061.2" width="5.6" height="41.7" fill="#000" stroke="none"/>
<rect x="357.73" y="1101.3" width="5.6" height="1.6" fill="#000" stroke="none"/>
<rect x="371.05" y="1098.1" width="5.6" height="4.8" fill="#000" stroke="none"/>
<rect x="464.29" y="1039.6" width="5.6" height="63.3" fill="#000" stroke="none"/>
<text x="277" y="995.4" font-size="8.9">HP mouse 6</text>
<line x1="38.75" y1="1117.6" x2="38.75" y2="1231.55" stroke-width="1.55"/>
<line x1="38" y1="1230.8" x2="239" y2="1230.8" stroke-width="1.55"/>
<line x1="36.75" y1="1230.8" x2="38.75" y2="1230.8" stroke-width="1.3"/>
<text x="33.95" y="1235.05" font-size="8.3" text-anchor="end">0</text>
<line x1="36.75" y1="1208.16" x2="38.75" y2="1208.16" stroke-width="1.3"/>
<text x="33.95" y="1212.41" font-size="8.3" text-anchor="end">20</text>
<line x1="36.75" y1="1185.52" x2="38.75" y2="1185.52" stroke-width="1.3"/>
<text x="33.95" y="1189.77" font-size="8.3" text-anchor="end">40</text>
<line x1="36.75" y1="1162.88" x2="38.75" y2="1162.88" stroke-width="1.3"/>
<text x="33.95" y="1167.13" font-size="8.3" text-anchor="end">60</text>
<line x1="36.75" y1="1140.24" x2="38.75" y2="1140.24" stroke-width="1.3"/>
<text x="33.95" y="1144.49" font-size="8.3" text-anchor="end">80</text>
<line x1="36.75" y1="1117.6" x2="38.75" y2="1117.6" stroke-width="1.3"/>
<text x="33.95" y="1121.85" font-size="8.3" text-anchor="end">100</text>
<line x1="39.5" y1="1230.8" x2="39.5" y2="1233.6" stroke-width="1.3"/>
<line x1="52.76" y1="1230.8" x2="52.76" y2="1233.6" stroke-width="1.3"/>
<line x1="66.02" y1="1230.8" x2="66.02" y2="1233.6" stroke-width="1.3"/>
<line x1="79.28" y1="1230.8" x2="79.28" y2="1233.6" stroke-width="1.3"/>
<line x1="92.54" y1="1230.8" x2="92.54" y2="1233.6" stroke-width="1.3"/>
<line x1="105.8" y1="1230.8" x2="105.8" y2="1233.6" stroke-width="1.3"/>
<line x1="119.06" y1="1230.8" x2="119.06" y2="1233.6" stroke-width="1.3"/>
<line x1="132.32" y1="1230.8" x2="132.32" y2="1233.6" stroke-width="1.3"/>
<line x1="145.58" y1="1230.8" x2="145.58" y2="1233.6" stroke-width="1.3"/>
<line x1="158.84" y1="1230.8" x2="158.84" y2="1233.6" stroke-width="1.3"/>
<line x1="172.1" y1="1230.8" x2="172.1" y2="1233.6" stroke-width="1.3"/>
<line x1="185.36" y1="1230.8" x2="185.36" y2="1233.6" stroke-width="1.3"/>
<line x1="198.62" y1="1230.8" x2="198.62" y2="1233.6" stroke-width="1.3"/>
<line x1="211.88" y1="1230.8" x2="211.88" y2="1233.6" stroke-width="1.3"/>
<line x1="225.14" y1="1230.8" x2="225.14" y2="1233.6" stroke-width="1.3"/>
<line x1="238.4" y1="1230.8" x2="238.4" y2="1233.6" stroke-width="1.3"/>
<rect x="43.33" y="1219.7" width="5.6" height="11.1" fill="#000" stroke="none"/>
<rect x="56.59" y="1223.8" width="5.6" height="7" fill="#000" stroke="none"/>
<rect x="83.11" y="1223.1" width="5.6" height="7.7" fill="#000" stroke="none"/>
<rect x="109.63" y="1225.2" width="5.6" height="5.6" fill="#000" stroke="none"/>
<rect x="122.89" y="1197.3" width="5.6" height="33.5" fill="#000" stroke="none"/>
<rect x="136.15" y="1229.6" width="5.6" height="1.2" fill="#000" stroke="none"/>
<rect x="149.41" y="1189.6" width="5.6" height="41.2" fill="#000" stroke="none"/>
<rect x="175.93" y="1229.5" width="5.6" height="1.3" fill="#000" stroke="none"/>
<rect x="202.45" y="1229.5" width="5.6" height="1.3" fill="#000" stroke="none"/>
<rect x="228.97" y="1227.2" width="5.6" height="3.6" fill="#000" stroke="none"/>
<text x="42.2" y="1123.6" font-size="8.9">HP mouse 3</text>
<text x="49.33" y="1235.1" font-size="9.0" text-anchor="end" transform="rotate(-90 49.33 1235.1)">2</text>
<text x="62.59" y="1235.1" font-size="9.0" text-anchor="end" transform="rotate(-90 62.59 1235.1)">3</text>
<text x="75.85" y="1235.1" font-size="9.0" text-anchor="end" transform="rotate(-90 75.85 1235.1)">4</text>
<text x="89.11" y="1235.1" font-size="9.0" text-anchor="end" transform="rotate(-90 89.11 1235.1)">5.1/5.2</text>
<text x="102.37" y="1235.1" font-size="9.0" text-anchor="end" transform="rotate(-90 102.37 1235.1)">6</text>
<text x="115.63" y="1235.1" font-size="9.0" text-anchor="end" transform="rotate(-90 115.63 1235.1)">7</text>
<text x="128.89" y="1235.1" font-size="9.0" text-anchor="end" transform="rotate(-90 128.89 1235.1)">8.1/8.2</text>
<text x="142.15" y="1235.1" font-size="9.0" text-anchor="end" transform="rotate(-90 142.15 1235.1)">8.3</text>
<text x="155.41" y="1235.1" font-size="9.0" text-anchor="end" transform="rotate(-90 155.41 1235.1)">9</text>
<text x="168.67" y="1235.1" font-size="9.0" text-anchor="end" transform="rotate(-90 168.67 1235.1)">10b</text>
<text x="181.93" y="1235.1" font-size="9.0" text-anchor="end" transform="rotate(-90 181.93 1235.1)">11</text>
<text x="195.19" y="1235.1" font-size="9.0" text-anchor="end" transform="rotate(-90 195.19 1235.1)">12</text>
<text x="208.45" y="1235.1" font-size="9.0" text-anchor="end" transform="rotate(-90 208.45 1235.1)">13</text>
<text x="221.71" y="1235.1" font-size="9.0" text-anchor="end" transform="rotate(-90 221.71 1235.1)">14</text>
<text x="234.97" y="1235.1" font-size="9.0" text-anchor="end" transform="rotate(-90 234.97 1235.1)">Others</text>
<line x1="274.9" y1="1117.6" x2="274.9" y2="1231.55" stroke-width="1.55"/>
<line x1="274.15" y1="1230.8" x2="475.4" y2="1230.8" stroke-width="1.55"/>
<line x1="272.9" y1="1230.8" x2="274.9" y2="1230.8" stroke-width="1.3"/>
<text x="269.8" y="1233.95" font-size="8.3" text-anchor="end">0</text>
<line x1="272.9" y1="1208.16" x2="274.9" y2="1208.16" stroke-width="1.3"/>
<text x="269.8" y="1211.31" font-size="8.3" text-anchor="end">20</text>
<line x1="272.9" y1="1185.52" x2="274.9" y2="1185.52" stroke-width="1.3"/>
<text x="269.8" y="1188.67" font-size="8.3" text-anchor="end">40</text>
<line x1="272.9" y1="1162.88" x2="274.9" y2="1162.88" stroke-width="1.3"/>
<text x="269.8" y="1166.03" font-size="8.3" text-anchor="end">60</text>
<line x1="272.9" y1="1140.24" x2="274.9" y2="1140.24" stroke-width="1.3"/>
<text x="269.8" y="1143.39" font-size="8.3" text-anchor="end">80</text>
<line x1="272.9" y1="1117.6" x2="274.9" y2="1117.6" stroke-width="1.3"/>
<text x="269.8" y="1120.75" font-size="8.3" text-anchor="end">100</text>
<line x1="275.3" y1="1230.8" x2="275.3" y2="1233.6" stroke-width="1.3"/>
<line x1="288.6" y1="1230.8" x2="288.6" y2="1233.6" stroke-width="1.3"/>
<line x1="301.9" y1="1230.8" x2="301.9" y2="1233.6" stroke-width="1.3"/>
<line x1="315.2" y1="1230.8" x2="315.2" y2="1233.6" stroke-width="1.3"/>
<line x1="328.5" y1="1230.8" x2="328.5" y2="1233.6" stroke-width="1.3"/>
<line x1="341.8" y1="1230.8" x2="341.8" y2="1233.6" stroke-width="1.3"/>
<line x1="355.1" y1="1230.8" x2="355.1" y2="1233.6" stroke-width="1.3"/>
<line x1="368.4" y1="1230.8" x2="368.4" y2="1233.6" stroke-width="1.3"/>
<line x1="381.7" y1="1230.8" x2="381.7" y2="1233.6" stroke-width="1.3"/>
<line x1="395" y1="1230.8" x2="395" y2="1233.6" stroke-width="1.3"/>
<line x1="408.3" y1="1230.8" x2="408.3" y2="1233.6" stroke-width="1.3"/>
<line x1="421.6" y1="1230.8" x2="421.6" y2="1233.6" stroke-width="1.3"/>
<line x1="434.9" y1="1230.8" x2="434.9" y2="1233.6" stroke-width="1.3"/>
<line x1="448.2" y1="1230.8" x2="448.2" y2="1233.6" stroke-width="1.3"/>
<line x1="461.5" y1="1230.8" x2="461.5" y2="1233.6" stroke-width="1.3"/>
<line x1="474.8" y1="1230.8" x2="474.8" y2="1233.6" stroke-width="1.3"/>
<rect x="279.15" y="1223" width="5.6" height="7.8" fill="#000" stroke="none"/>
<rect x="319.05" y="1185.7" width="5.6" height="45.1" fill="#000" stroke="none"/>
<rect x="345.65" y="1228.1" width="5.6" height="2.7" fill="#000" stroke="none"/>
<rect x="358.95" y="1229.3" width="5.6" height="1.5" fill="#000" stroke="none"/>
<rect x="425.45" y="1223.4" width="5.6" height="7.4" fill="#000" stroke="none"/>
<rect x="438.75" y="1227.2" width="5.6" height="3.6" fill="#000" stroke="none"/>
<rect x="452.05" y="1229" width="5.6" height="1.8" fill="#000" stroke="none"/>
<rect x="465.35" y="1187.3" width="5.6" height="43.5" fill="#000" stroke="none"/>
<text x="277.1" y="1123.8" font-size="8.9">HP mouse 7</text>
<text x="285.15" y="1235.1" font-size="9.0" text-anchor="end" transform="rotate(-90 285.15 1235.1)">2</text>
<text x="298.45" y="1235.1" font-size="9.0" text-anchor="end" transform="rotate(-90 298.45 1235.1)">3</text>
<text x="311.75" y="1235.1" font-size="9.0" text-anchor="end" transform="rotate(-90 311.75 1235.1)">4</text>
<text x="325.05" y="1235.1" font-size="9.0" text-anchor="end" transform="rotate(-90 325.05 1235.1)">5.1/5.2</text>
<text x="338.35" y="1235.1" font-size="9.0" text-anchor="end" transform="rotate(-90 338.35 1235.1)">6</text>
<text x="351.65" y="1235.1" font-size="9.0" text-anchor="end" transform="rotate(-90 351.65 1235.1)">7</text>
<text x="364.95" y="1235.1" font-size="9.0" text-anchor="end" transform="rotate(-90 364.95 1235.1)">8.1/8.2</text>
<text x="378.25" y="1235.1" font-size="9.0" text-anchor="end" transform="rotate(-90 378.25 1235.1)">8.3</text>
<text x="391.55" y="1235.1" font-size="9.0" text-anchor="end" transform="rotate(-90 391.55 1235.1)">9</text>
<text x="404.85" y="1235.1" font-size="9.0" text-anchor="end" transform="rotate(-90 404.85 1235.1)">10b</text>
<text x="418.15" y="1235.1" font-size="9.0" text-anchor="end" transform="rotate(-90 418.15 1235.1)">11</text>
<text x="431.45" y="1235.1" font-size="9.0" text-anchor="end" transform="rotate(-90 431.45 1235.1)">12</text>
<text x="444.75" y="1235.1" font-size="9.0" text-anchor="end" transform="rotate(-90 444.75 1235.1)">13</text>
<text x="458.05" y="1235.1" font-size="9.0" text-anchor="end" transform="rotate(-90 458.05 1235.1)">14</text>
<text x="471.35" y="1235.1" font-size="9.0" text-anchor="end" transform="rotate(-90 471.35 1235.1)">Others</text>
<line x1="4.9" y1="738" x2="4.9" y2="920.6" stroke-width="1.9"/>
<path d="M4.9 730.8 L8.7 740.5 L1.1 740.5 Z" stroke="none"/>
<text x="7.6" y="980" font-size="8.4" text-anchor="middle" font-weight="bold" transform="rotate(-90 7.6 980)">% NP-205 tetramer+ cells</text>
<line x1="4.9" y1="1042.5" x2="4.9" y2="1230.8" stroke-width="1.9"/>
<line x1="40.3" y1="1274.9" x2="128.8" y2="1274.9" stroke-width="1.9"/>
<text x="133.8" y="1277.9" font-size="8.5">Vβ</text>
<line x1="146.4" y1="1274.9" x2="229.8" y2="1274.9" stroke-width="1.9"/>
<path d="M237.8 1274.9 L228 1271.05 L228 1278.75 Z" stroke="none"/>
<line x1="279.6" y1="1274.9" x2="368" y2="1274.9" stroke-width="1.9"/>
<text x="372.6" y="1277.9" font-size="8.5">Vβ</text>
<line x1="385.2" y1="1274.9" x2="468.5" y2="1274.9" stroke-width="1.9"/>
<path d="M476.5 1274.9 L466.7 1271.05 L466.7 1278.75 Z" stroke="none"/>
</svg></body></html>
